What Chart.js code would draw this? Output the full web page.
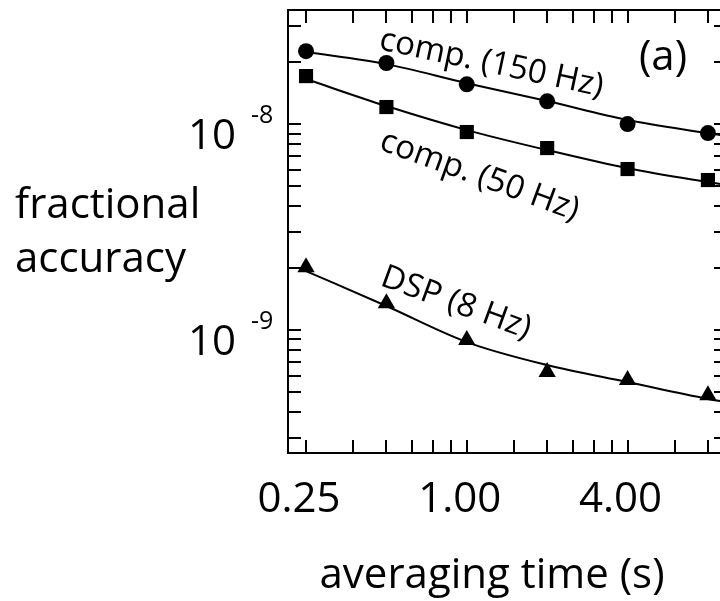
<!DOCTYPE html>
<html>
<head>
<meta charset="utf-8">
<script src="https://cdn.jsdelivr.net/npm/chart.js@4/dist/chart.umd.min.js"></script>
<style>
  html, body { margin: 0; padding: 0; overflow: hidden; background: #fff; }
  #wrap { position: relative; width: 740px; height: 601px; }
</style>
</head>
<body>
<div id="wrap"><canvas id="chart" width="740" height="601"></canvas></div>
<script>
// Averaging times (s) of the measured points
const averagingTimes = [0.25, 0.5, 1, 2, 4, 8];

// Measured fractional accuracy for each readout
const comp150 = [2.26e-8, 1.98e-8, 1.56e-8, 1.29e-8, 1.00e-8, 0.904e-8];
const comp50  = [1.71e-8, 1.21e-8, 0.915e-8, 0.765e-8, 0.605e-8, 0.535e-8];
const dsp8    = [2.02e-9, 1.35e-9, 0.894e-9, 0.625e-9, 0.572e-9, 0.483e-9];

// Fitted curves, sampled along the averaging-time axis
const fitTimes = [0.25, 0.5, 1, 2, 4, 8, 9.4];
const fit150 = [2.237e-8, 1.955e-8, 1.58e-8, 1.293e-8, 1.046e-8, 0.904e-8, 0.875e-8];
const fit50  = [1.654e-8, 1.223e-8, 0.935e-8, 0.748e-8, 0.611e-8, 0.523e-8, 0.506e-8];
const fitDsp = [1.934e-9, 1.308e-9, 0.874e-9, 0.676e-9, 0.559e-9, 0.463e-9, 0.447e-9];

// Axis ticks and labels
const xTickValues = [0.25, 0.375, 0.5, 0.625, 0.75, 0.875, 1, 1.5, 2, 2.5, 3, 3.5, 4, 6, 8];
const xLabelValues = [0.25, 1, 4];
const xLabels = ['0.25', '1.00', '4.00'];
const yTickValues = [3e-10, 4e-10, 5e-10, 6e-10, 7e-10, 8e-10, 9e-10,
                     1e-9, 2e-9, 3e-9, 4e-9, 5e-9, 6e-9, 7e-9, 8e-9, 9e-9,
                     1e-8, 2e-8, 3e-8];
const yLabelValues = [1e-8, 1e-9];
const yLabelExponents = ['-8', '-9'];

const seriesNames = ['comp. (150 Hz)', 'comp. (50 Hz)', 'DSP (8 Hz)'];
const xTitle = 'averaging time (s)';
const yTitleLines = ['fractional', 'accuracy'];
const panelTag = '(a)';

const FONT = '"Open Sans", "DejaVu Sans", sans-serif';

function pts(xs, ys) { return xs.map((x, i) => ({ x: x, y: ys[i] })); }

function fitLine(values) {
  return {
    type: 'line', data: pts(fitTimes, values),
    borderColor: '#000', borderWidth: 2, pointRadius: 0,
    tension: 0.4, cubicInterpolationMode: 'monotone', fill: false, order: 2
  };
}
function markers(values, style, r) {
  return {
    type: 'scatter', data: pts(averagingTimes, values),
    pointStyle: style, pointRadius: r, backgroundColor: '#000',
    borderColor: '#000', borderWidth: 0, showLine: false, order: 1
  };
}

// Frame, inward ticks, labels and annotations
const decorations = {
  id: 'decorations',
  afterDatasetsDraw(chart) {
    const ctx = chart.ctx;
    const { left, right, top, bottom } = chart.chartArea;
    const xs = chart.scales.x, ys = chart.scales.y;
    const tick = 13;
    ctx.save();
    ctx.strokeStyle = '#000';
    ctx.fillStyle = '#000';
    ctx.lineWidth = 2;
    ctx.beginPath();
    xTickValues.forEach(v => {
      const px = Math.round(xs.getPixelForValue(v));
      ctx.moveTo(px, bottom); ctx.lineTo(px, bottom - tick);
      ctx.moveTo(px, top); ctx.lineTo(px, top + tick);
    });
    yTickValues.forEach(v => {
      const py = Math.round(ys.getPixelForValue(v));
      ctx.moveTo(left, py); ctx.lineTo(left + tick, py);
      ctx.moveTo(right, py); ctx.lineTo(right - tick, py);
    });
    ctx.stroke();
    ctx.strokeRect(left, top, right - left, bottom - top);

    // x tick labels
    ctx.font = '42px ' + FONT;
    ctx.textAlign = 'center';
    ctx.textBaseline = 'alphabetic';
    xLabelValues.forEach((v, i) => {
      ctx.fillText(xLabels[i], xs.getPixelForValue(v) - 7, bottom + 59);
    });

    // y tick labels with exponents
    yLabelValues.forEach((v, i) => {
      const py = ys.getPixelForValue(v);
      ctx.font = '42px ' + FONT;
      ctx.textAlign = 'right';
      ctx.fillText('10', left - 52, py + 25);
      ctx.font = '25px ' + FONT;
      ctx.textAlign = 'left';
      ctx.fillText(yLabelExponents[i], left - 37, py - 1);
    });

    // axis titles
    ctx.font = '42px ' + FONT;
    ctx.textAlign = 'left';
    ctx.fillText(yTitleLines[0], 15, 218);
    ctx.fillText(yTitleLines[1], 15, 272);
    ctx.textAlign = 'center';
    ctx.fillText(xTitle, 492, 588);

    // panel tag
    ctx.fillText(panelTag, 663, 70);

    // series labels along their curves
    const tags = [
      { text: seriesNames[0], x: 378, y: 49, angle: 12 },
      { text: seriesNames[1], x: 378, y: 149, angle: 20 },
      { text: seriesNames[2], x: 379, y: 285, angle: 20 }
    ];
    ctx.font = '33px ' + FONT;
    ctx.textAlign = 'left';
    tags.forEach(t => {
      ctx.save();
      ctx.translate(t.x, t.y);
      ctx.rotate(t.angle * Math.PI / 180);
      ctx.fillText(t.text, 0, 0);
      ctx.restore();
    });
    ctx.restore();
  }
};

new Chart(document.getElementById('chart'), {
  data: {
    datasets: [
      fitLine(fit150), fitLine(fit50), fitLine(fitDsp),
      markers(comp150, 'circle', 8),
      markers(comp50, 'rect', 10),
      markers(dsp8, 'triangle', 10)
    ]
  },
  options: {
    responsive: false,
    animation: false,
    devicePixelRatio: 1,
    layout: { padding: { left: 288, top: 10, right: 13, bottom: 148 } },
    plugins: { legend: { display: false }, tooltip: { enabled: false } },
    scales: {
      x: { type: 'logarithmic', min: 0.214, max: 9.43, bounds: 'data', display: false },
      y: { type: 'logarithmic', min: 2.53e-10, max: 3.58e-8, bounds: 'data', display: false }
    }
  },
  plugins: [decorations]
});
</script>
</body>
</html>
